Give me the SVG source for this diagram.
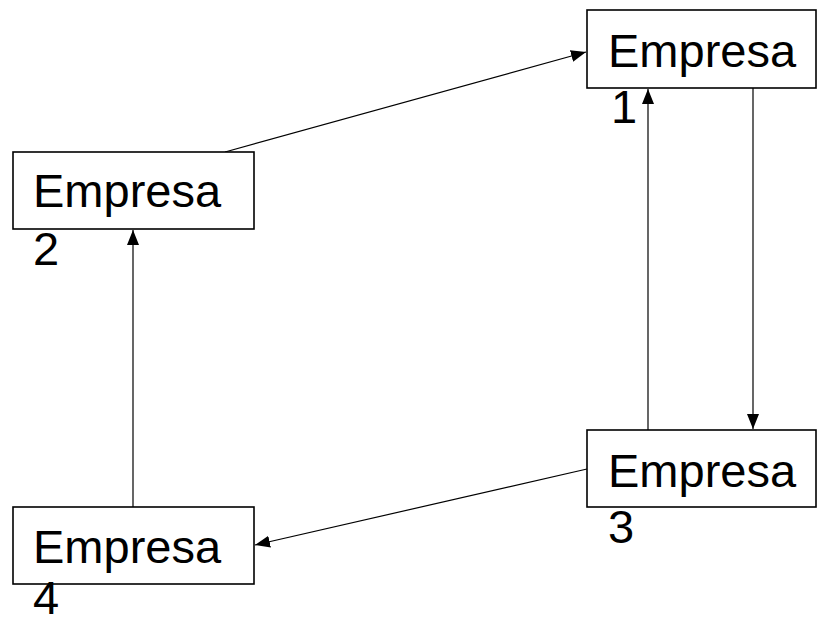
<svg xmlns="http://www.w3.org/2000/svg" width="817" height="618" viewBox="0 0 817 618">
<style>
.box{fill:#fff;stroke:#000;stroke-width:1.6}
.t{font-family:"Liberation Sans",Arial,sans-serif;font-size:47px;fill:#000}
.c{stroke:#000;stroke-width:1.2;fill:none;marker-end:url(#ah)}
</style>
<defs>
<marker id="ah" viewBox="0 0 15 12" refX="15" refY="6" markerWidth="15" markerHeight="12" markerUnits="userSpaceOnUse" orient="auto">
<path d="M0,0 L15,6 L0,12 Z" fill="#000"/>
</marker>
</defs>
<rect width="817" height="618" fill="#fff"/>
<g id="connectors">
<line class="c" x1="225" y1="152" x2="586" y2="52"/>
<line class="c" x1="648" y1="430" x2="648" y2="89"/>
<line class="c" x1="753" y1="88" x2="753" y2="429"/>
<line class="c" x1="587" y1="469" x2="255" y2="545"/>
<line class="c" x1="133" y1="507" x2="133" y2="230"/>
</g>
<g id="n1">
<rect class="box" x="587" y="10" width="229" height="78"/>
<text class="t" x="608" y="67">Empresa</text>
<text class="t" x="611" y="123">1</text>
</g>
<g id="n2">
<rect class="box" x="13" y="152" width="241" height="77"/>
<text class="t" x="33" y="207">Empresa</text>
<text class="t" x="33" y="265">2</text>
</g>
<g id="n3">
<rect class="box" x="587" y="430" width="229" height="77"/>
<text class="t" x="608" y="487">Empresa</text>
<text class="t" x="608" y="543">3</text>
</g>
<g id="n4">
<rect class="box" x="13" y="507" width="241" height="77"/>
<text class="t" x="33" y="563">Empresa</text>
<text class="t" x="33" y="614">4</text>
</g>
</svg>
